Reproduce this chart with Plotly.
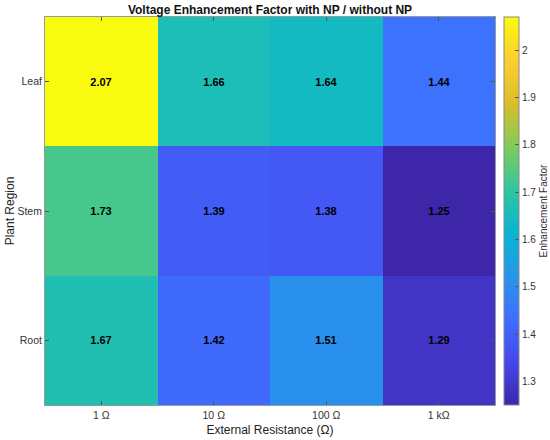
import plotly.graph_objects as go

resistances = ["1 Ω", "10 Ω", "100 Ω", "1 kΩ"]
regions = ["Root", "Stem", "Leaf"]
root_vals = [1.67, 1.42, 1.51, 1.29]
stem_vals = [1.73, 1.39, 1.38, 1.25]
leaf_vals = [2.07, 1.66, 1.64, 1.44]
cbar_ticks = [1.3, 1.4, 1.5, 1.6, 1.7, 1.8, 1.9, 2.0]

# matlab parula, sampled at 10 points
parula = [
    [0 / 9, "rgb(62,38,168)"],
    [1 / 9, "rgb(71,71,235)"],
    [2 / 9, "rgb(62,111,255)"],
    [3 / 9, "rgb(39,150,235)"],
    [4 / 9, "rgb(8,181,208)"],
    [5 / 9, "rgb(49,198,159)"],
    [6 / 9, "rgb(129,204,89)"],
    [7 / 9, "rgb(220,189,41)"],
    [8 / 9, "rgb(252,207,48)"],
    [9 / 9, "rgb(249,251,14)"],
]

font = "Liberation Sans, Arial, sans-serif"

fig = go.Figure(
    go.Heatmap(
        z=[root_vals, stem_vals, leaf_vals],
        x=resistances,
        y=regions,
        colorscale=parula,
        zmin=1.25,
        zmax=2.07,
        texttemplate="<b>%{z:.2f}</b>",
        textfont=dict(size=11, color="black", family=font),
        hoverinfo="skip",
        colorbar=dict(
            x=1.02,
            xanchor="left",
            y=0,
            yanchor="bottom",
            len=1,
            ypad=0,
            xpad=0,
            thickness=15,
            outlinewidth=1,
            outlinecolor="#888",
            tickvals=cbar_ticks,
            ticktext=["1.3", "1.4", "1.5", "1.6", "1.7", "1.8", "1.9", "2"],
            ticks="inside",
            ticklen=4,
            tickcolor="#555",
            tickfont=dict(size=10, color="#333", family=font),
            title=dict(text="Enhancement Factor", side="right",
                       font=dict(size=10, color="#333", family=font)),
        ),
    )
)

fig.update_layout(
    width=550,
    height=440,
    margin=dict(l=45, r=55, t=17, b=35, autoexpand=False),
    paper_bgcolor="white",
    plot_bgcolor="white",
    title=dict(text="<b>Voltage Enhancement Factor with NP / without NP</b>",
               x=0.5, xref="paper", xanchor="center",
               y=1 - 10 / 440, yref="container", yanchor="middle",
               font=dict(size=12, color="#111", family=font)),
    font=dict(family=font),
)
fig.update_xaxes(
    title=dict(text="External Resistance (Ω)", font=dict(size=12, color="#222"), standoff=6),
    tickfont=dict(size=10.5, color="#333"),
    ticks="inside", ticklen=4, tickcolor="#555",
    showline=True, linecolor="#999", mirror="ticks",
    automargin=False,
)
fig.update_yaxes(
    title=dict(text="Plant Region", font=dict(size=12, color="#222"), standoff=0),
    tickfont=dict(size=10.5, color="#333"),
    ticks="inside", ticklen=4, tickcolor="#555",
    showline=True, linecolor="#999", mirror="ticks",
    automargin=False,
)

# page has a default body margin that pushes the figure off the window
fig.write_html("out.html", config={"displayModeBar": False},
               post_script="document.body.style.margin = '0';")
